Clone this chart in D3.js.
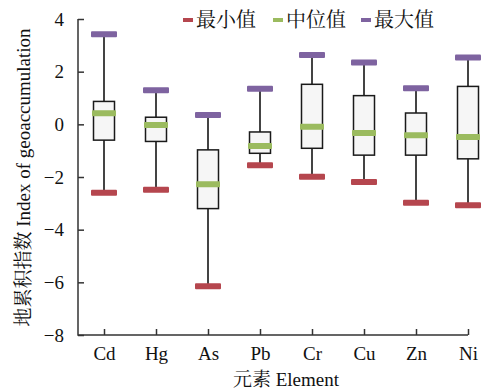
<!DOCTYPE html>
<html>
<head>
<meta charset="utf-8">
<script src="https://cdn.jsdelivr.net/npm/d3@7"></script>
<style>
  body { margin: 0; background: #fff; }
</style>
</head>
<body>
<div id="box_chart"></div>
<script>
const elements = ["Cd", "Hg", "As", "Pb", "Cr", "Cu", "Zn", "Ni"];
const minVals = [-2.6, -2.48, -6.15, -1.55, -1.99, -2.19, -2.98, -3.07];
const q1Vals = [-0.6, -0.65, -3.2, -1.1, -0.91, -1.17, -1.17, -1.31];
const medianVals = [0.42, -0.03, -2.28, -0.82, -0.09, -0.33, -0.41, -0.48];
const q3Vals = [0.87, 0.27, -0.97, -0.29, 1.52, 1.09, 0.43, 1.44];
const maxVals = [3.42, 1.29, 0.35, 1.35, 2.63, 2.35, 1.37, 2.54];
const yTicks = [4, 2, 0, -2, -4, -6, -8];
const legendNames = ["最小值", "中位值", "最大值"];

const latin = "Liberation Serif";
const cjk = "Noto Serif CJK SC";

let draw = () => {
  let width = 483;
  let height = 391;
  let colors = { min: "#b5464e", median: "#9bbb5f", max: "#7e63a0" };

  let data = elements.map((e, i) => ({
    el: e,
    min: minVals[i],
    q1: q1Vals[i],
    median: medianVals[i],
    q3: q3Vals[i],
    max: maxVals[i],
  }));

  let svg = d3
    .select("#box_chart")
    .append("svg")
    .attr("width", width)
    .attr("height", height);

  let xScale = d3.scalePoint().domain(elements).range([104, 468]);
  let yScale = d3.scaleLinear().domain([-8, 4]).range([335, 19]);

  // y axis
  svg
    .append("g")
    .attr("transform", "translate(78,0)")
    .call(
      d3
        .axisLeft(yScale)
        .tickValues(yTicks)
        .tickSize(-6)
        .tickPadding(14)
        .tickFormat((d) => (d < 0 ? "\u2212" + Math.abs(d) : d))
    )
    .call((g) => g.select(".domain").remove())
    .call((g) => g.selectAll("line").attr("stroke", "#333").attr("stroke-width", 1.5))
    .call((g) =>
      g.selectAll("text").attr("fill", "#111").attr("font-size", 19).style("font-family", latin)
    );

  // x axis
  svg
    .append("g")
    .attr("transform", "translate(0,335)")
    .call(d3.axisBottom(xScale).tickSize(-6).tickPadding(12))
    .call((g) => g.select(".domain").remove())
    .call((g) => g.selectAll("line").attr("stroke", "#333").attr("stroke-width", 1.5))
    .call((g) =>
      g.selectAll("text").attr("fill", "#111").attr("font-size", 19).style("font-family", latin)
    );

  svg
    .append("path")
    .attr("d", `M78,${yScale(4)}V335H${xScale("Ni")}`)
    .attr("fill", "none")
    .attr("stroke", "#333")
    .attr("stroke-width", 1.5);

  let boxW = 21;
  let capW = 26;
  let barH = 6;

  let groups = svg
    .selectAll(".box")
    .data(data)
    .enter()
    .append("g")
    .attr("class", "box");

  groups
    .append("line")
    .attr("x1", (d) => xScale(d.el))
    .attr("x2", (d) => xScale(d.el))
    .attr("y1", (d) => yScale(d.min))
    .attr("y2", (d) => yScale(d.max))
    .attr("stroke", "#444")
    .attr("stroke-width", 2);

  groups
    .append("rect")
    .attr("x", (d) => xScale(d.el) - boxW / 2)
    .attr("y", (d) => yScale(d.q3))
    .attr("width", boxW)
    .attr("height", (d) => yScale(d.q1) - yScale(d.q3))
    .attr("fill", "#f6f6f6")
    .attr("stroke", "#1a1a1a")
    .attr("stroke-width", 1.5);

  let bar = (key, w) =>
    groups
      .append("rect")
      .attr("x", (d) => xScale(d.el) - w / 2)
      .attr("y", (d) => yScale(d[key]) - barH / 2)
      .attr("width", w)
      .attr("height", barH)
      .attr("rx", 1)
      .attr("fill", colors[key]);

  bar("median", 24);
  bar("min", capW);
  bar("max", capW);

  // legend
  let legendX = [183, 273, 361];
  let legendKeys = ["min", "median", "max"];
  legendNames.forEach((name, i) => {
    svg
      .append("rect")
      .attr("x", legendX[i])
      .attr("y", 18)
      .attr("width", 10)
      .attr("height", 4)
      .attr("fill", colors[legendKeys[i]]);
    svg
      .append("text")
      .attr("x", legendX[i] + 13)
      .attr("y", 27)
      .attr("font-size", 20)
      .attr("fill", "#111")
      .style("font-family", cjk)
      .text(name);
  });

  // axis titles: CJK and Latin parts in their own tspans
  let yTitle = svg
    .append("text")
    .attr("transform", `translate(30,${(10 + 345) / 2}) rotate(-90)`)
    .attr("text-anchor", "middle")
    .attr("font-size", 19)
    .attr("fill", "#111");
  yTitle.append("tspan").style("font-family", cjk).text("地累积指数");
  yTitle.append("tspan").style("font-family", latin).text(" Index of geoaccumulation");

  let xTitle = svg
    .append("text")
    .attr("x", 286)
    .attr("y", 386)
    .attr("text-anchor", "middle")
    .attr("font-size", 19)
    .attr("fill", "#111");
  xTitle.append("tspan").style("font-family", cjk).text("元素");
  xTitle.append("tspan").style("font-family", latin).text(" Element");
};

draw();
</script>
</body>
</html>
